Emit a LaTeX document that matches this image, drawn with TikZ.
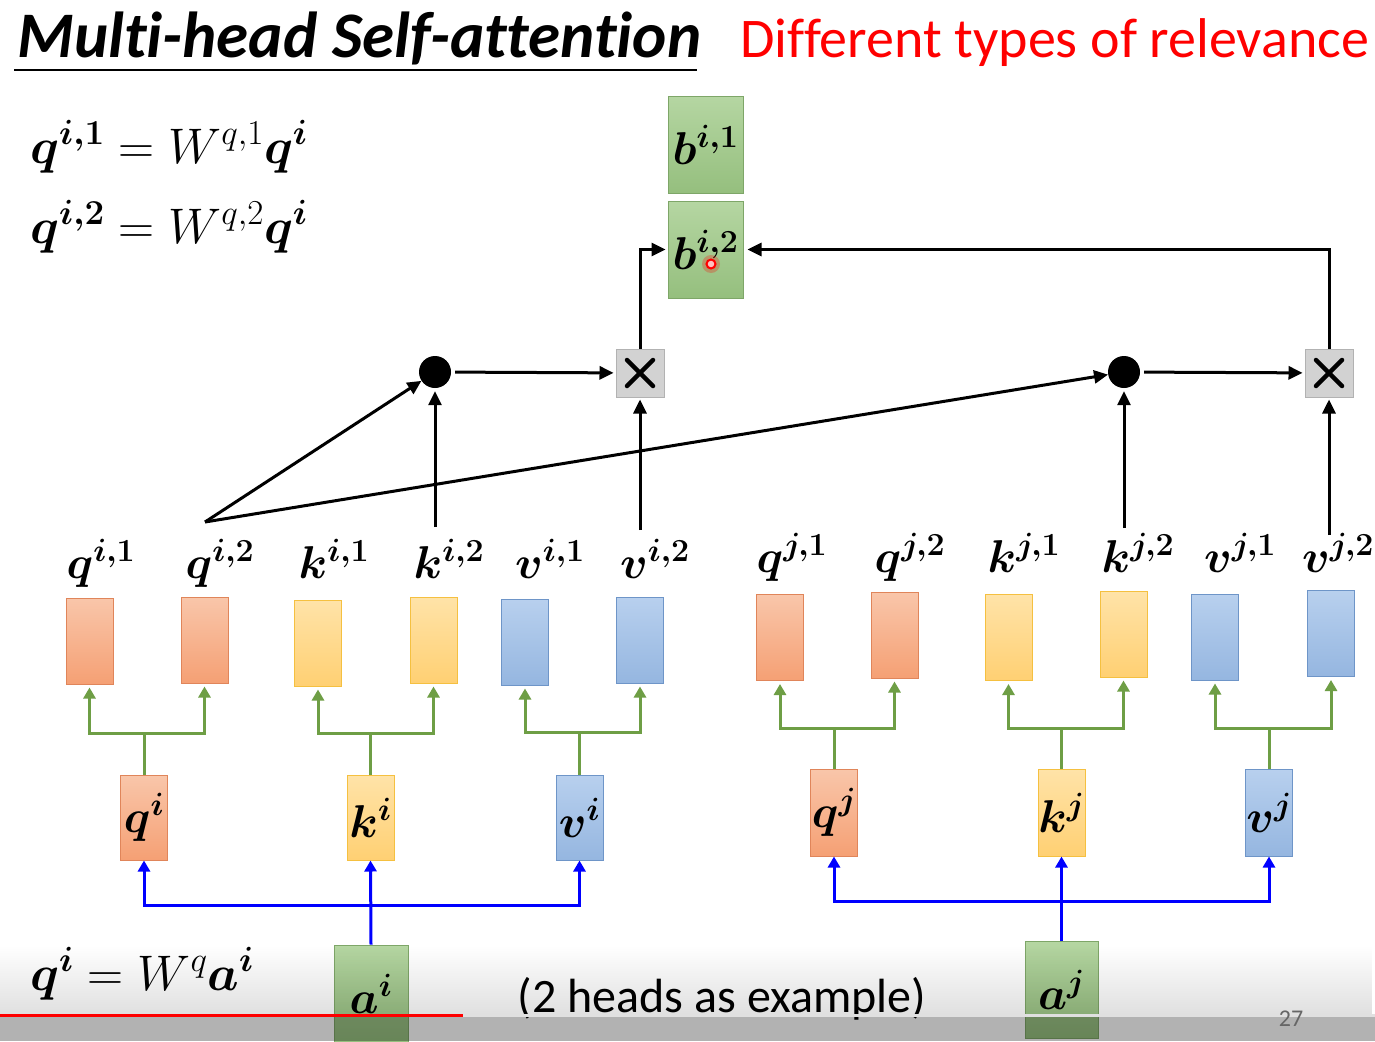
\RequirePackage{fix-cm}
\documentclass[tikz,border=0pt]{standalone}
\usepackage{amsmath}
\usepackage[no-math]{fontspec}
\newfontfamily\carlito[Ligatures=CommonOff]{Carlito}
\usetikzlibrary{arrows.meta,fadings}
\definecolor{qt}{HTML}{F9C6AA}\definecolor{qb}{HTML}{F5A074}\definecolor{qd}{HTML}{E0855A}
\definecolor{kt}{HTML}{FFE3A8}\definecolor{kb}{HTML}{FFD073}\definecolor{kd}{HTML}{F5C040}
\definecolor{vt}{HTML}{B8D0EE}\definecolor{vb}{HTML}{95B6E0}\definecolor{vd}{HTML}{6E95C8}
\definecolor{gt}{HTML}{B5D6A2}\definecolor{gb}{HTML}{95BF7E}\definecolor{gd}{HTML}{7EA668}
\definecolor{gline}{HTML}{6E9E45}
\definecolor{mfill}{HTML}{D2D2D2}\definecolor{mdraw}{HTML}{B2B2B2}
\begin{document}
\begin{tikzpicture}[x=1pt,y=-1pt,
  vbox/.style={minimum width=47pt, minimum height=86pt, inner sep=0pt, line width=1pt},
  qc/.style={vbox, draw=qd, top color=qt, bottom color=qb},
  kc/.style={vbox, draw=kd, top color=kt, bottom color=kb},
  vc/.style={vbox, draw=vd, top color=vt, bottom color=vb},
  gc/.style={minimum width=75pt, minimum height=97pt, inner sep=0pt, line width=1pt, draw=gd, top color=gt, bottom color=gb},
  lab/.style={font=\fontsize{46}{52}\selectfont, inner sep=0pt},
  eq/.style={font=\fontsize{50}{56}\selectfont, inner sep=0pt},
  dot/.style={circle, fill=black, minimum size=32pt, inner sep=0pt},
  mul/.style={draw=mdraw, fill=mfill, line width=1pt, minimum size=48pt, inner sep=0pt,
    path picture={\draw[black, line width=4.5pt, line cap=round]
      ([shift={(-13pt,-13pt)}]path picture bounding box.center) -- ([shift={(13pt,13pt)}]path picture bounding box.center)
      ([shift={(-13pt,13pt)}]path picture bounding box.center) -- ([shift={(13pt,-13pt)}]path picture bounding box.center);}},
  ar/.style={line width=3pt, -{Triangle[length=14pt,width=13pt]}},
  gar/.style={line width=3pt, draw=gline, -{Triangle[length=11pt,width=12pt]}},
  bar/.style={line width=3pt, draw=blue, -{Triangle[length=11pt,width=12pt]}}
]
\useasboundingbox (0,0) rectangle (1375,1041);
\fill[white] (0,0) rectangle (1375,1041);

% titles
\node[anchor=base west, inner sep=0pt, font=\carlito\bfseries\itshape\fontsize{65}{75}\selectfont] (title) at (17,58) {Multi-head Self-attention};
\draw[line width=2pt] (14,70) -- (697,70);
\node[anchor=base west, inner sep=0pt, text=red, font=\carlito\fontsize{56}{64}\selectfont] (sub) at (740,57) {Different types of relevance};

% equations
\node[eq, anchor=base west] (e1) at (30,163) {$\boldsymbol{q^{i,1}} = W^{q,1}\boldsymbol{q^{i}}$};
\node[eq, anchor=base west] (e2) at (30,243) {$\boldsymbol{q^{i,2}} = W^{q,2}\boldsymbol{q^{i}}$};
\node[eq, anchor=base west] (e3) at (30,990) {$\boldsymbol{q^{i}} = W^{q}\boldsymbol{a^{i}}$};

% outputs
\node[gc, lab] (b1) at (705.5,144.5) {$\boldsymbol{b^{i,1}}$};
\node[gc, lab] (b2) at (705.5,249.5) {$\boldsymbol{b^{i,2}}$};

% dots and multipliers
\node[dot] (d1) at (435,372) {};
\node[dot] (d2) at (1124,372) {};
\node[mul] (m1) at (640,373) {};
\node[mul] (m2) at (1329,373) {};

% head vectors i
\node[qc] (qi1) at (89.5,641) {};
\node[qc] (qi2) at (204.5,640) {};
\node[kc] (ki1) at (318,643) {};
\node[kc] (ki2) at (433.5,640) {};
\node[vc] (vi1) at (525,642) {};
\node[vc] (vi2) at (640,640) {};
% head vectors j
\node[qc] (qj1) at (780,637.5) {};
\node[qc] (qj2) at (894.5,635) {};
\node[kc] (kj1) at (1008.5,637.5) {};
\node[kc] (kj2) at (1123.5,634) {};
\node[vc] (vj1) at (1215,637) {};
\node[vc] (vj2) at (1331,633.5) {};

% labels
\node[lab, anchor=base] (lqi1) at (101,578) {$\boldsymbol{q^{i,1}}$};
\node[lab, anchor=base] (lqi2) at (220,578) {$\boldsymbol{q^{i,2}}$};
\node[lab, anchor=base] (lki1) at (334,578) {$\boldsymbol{k^{i,1}}$};
\node[lab, anchor=base] (lki2) at (449,578) {$\boldsymbol{k^{i,2}}$};
\node[lab, anchor=base] (lvi1) at (550,578) {$\boldsymbol{v^{i,1}}$};
\node[lab, anchor=base] (lvi2) at (655,578) {$\boldsymbol{v^{i,2}}$};
\node[lab, anchor=base] (lqj1) at (792,572) {$\boldsymbol{q^{j,1}}$};
\node[lab, anchor=base] (lqj2) at (910,572) {$\boldsymbol{q^{j,2}}$};
\node[lab, anchor=base] (lkj1) at (1024,572) {$\boldsymbol{k^{j,1}}$};
\node[lab, anchor=base] (lkj2) at (1138,572) {$\boldsymbol{k^{j,2}}$};
\node[lab, anchor=base] (lvj1) at (1240,572) {$\boldsymbol{v^{j,1}}$};
\node[lab, anchor=base] (lvj2) at (1338,572) {$\boldsymbol{v^{j,2}}$};

% q k v
\node[qc, lab, minimum height=85pt] (qi) at (144,817.5) {$\boldsymbol{q^{i}}$};
\node[kc, lab, minimum height=85pt] (ki) at (370.5,817.5) {$\boldsymbol{k^{i}}$};
\node[vc, lab, minimum height=85pt] (vi) at (579.5,817.5) {$\boldsymbol{v^{i}}$};
\node[qc, lab, minimum height=87pt] (qj) at (834,812.5) {$\boldsymbol{q^{j}}$};
\node[kc, lab, minimum height=87pt] (kj) at (1061.5,812.5) {$\boldsymbol{k^{j}}$};
\node[vc, lab, minimum height=87pt] (vj) at (1269,812.5) {$\boldsymbol{v^{j}}$};

% inputs
\node[gc, lab, minimum width=74pt] (ai) at (371,993.5) {$\boldsymbol{a^{i}}$};
\node[gc, lab, minimum width=73pt] (aj) at (1061.5,989.5) {$\boldsymbol{a^{j}}$};

\node[anchor=base, inner sep=0pt, font=\carlito\fontsize{48}{54}\selectfont] (note) at (722,1012) {(2 heads as example)};

% attention connectors
\coordinate (sq) at (205,522);
\coordinate (sk2) at (435,527);
\coordinate (sv2) at (640,530);
\coordinate (sk4) at (1124,528);
\coordinate (sv4) at (1329,535);
\draw[ar] (sq) -- (d1);
\draw[ar] (sq) -- (d2);
\draw[ar, shorten >=3pt] (sk2) -- (d1);
\draw[ar, shorten >=3pt] (sk4) -- (d2);
\draw[ar, shorten <=4pt, shorten >=2pt] (d1) -- (m1);
\draw[ar, shorten <=4pt, shorten >=2pt] (d2) -- (m2);
\draw[ar, shorten >=2pt] (sv2) -- (m1);
\draw[ar, shorten >=2pt] (sv4) -- (m2);
\draw[ar, shorten >=2pt] (m1.north) |- (b2.west);
\draw[ar, shorten >=4pt] (m2.north) |- (b2.east);

% green splits
\coordinate (gqi) at (144,733);
\coordinate (gki) at (370.5,733);
\coordinate (gvi) at (579.5,732);
\coordinate (gqj) at (834,728);
\coordinate (gkj) at (1061.5,728);
\coordinate (gvj) at (1269,728);
\foreach \s/\a/\b in {qi/qi1/qi2, ki/ki1/ki2, vi/vi1/vi2, qj/qj1/qj2, kj/kj1/kj2, vj/vj1/vj2}{
  \draw[gar, shorten >=3pt] (\s.north) -- (g\s) -| (\a.south);
  \draw[gar, shorten >=3pt] (g\s) -| (\b.south);
}

% blue splits
\coordinate (bli) at (371,905);
\coordinate (blj) at (1061.5,901);
\draw[bar] (ai.north) -- (ki.south);
\draw[bar] (bli) -| (qi.south);
\draw[bar] (bli) -| (vi.south);
\draw[bar] (aj.north) -- (kj.south);
\draw[bar] (blj) -| (qj.south);
\draw[bar] (blj) -| (vj.south);

% laser pointer
\fill[red, opacity=0.25] (711,264) circle (9);
\draw[red, line width=2pt, fill=red!25] (711,264) circle (4.5);

% video overlay
\fill[black, opacity=0.12, path fading=north] (0,945) rectangle (1375,1014);
\fill[black, opacity=0.30] (0,1016) rectangle (1375,1041);
\draw[white!88!black, line width=3pt] (463,1015) -- (1375,1015);
\draw[red, line width=3pt] (0,1015) -- (463,1015);
\node[anchor=base, inner sep=0pt, text=black!60, font=\carlito\fontsize{24}{28}\selectfont] (pg) at (1291,1026) {27};
\end{tikzpicture}
\end{document}
